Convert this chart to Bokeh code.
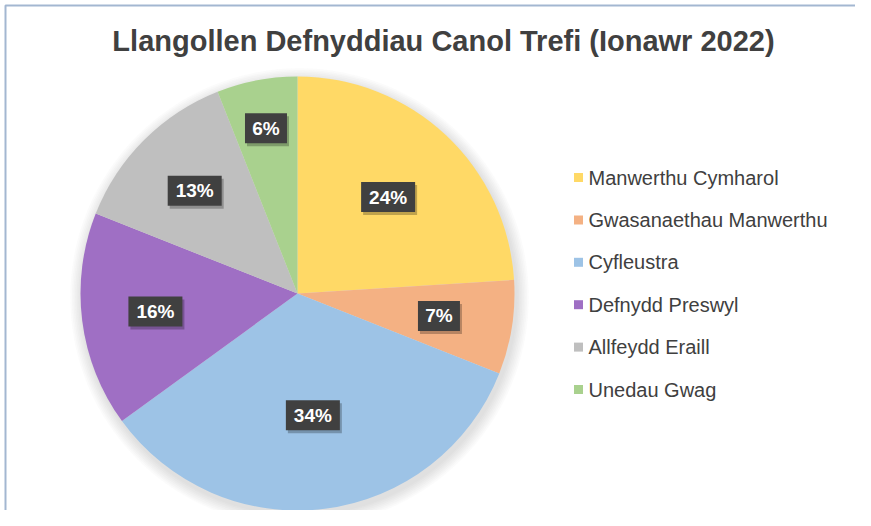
import math
from bokeh.plotting import figure
from bokeh.models import Range1d, ColumnDataSource
from bokeh.core.properties import value
from bokeh.embed import file_html
from bokeh.resources import INLINE

# ---- data ----
title = "Llangollen Defnyddiau Canol Trefi (Ionawr 2022)"
categories = ["Manwerthu Cymharol", "Gwasanaethau Manwerthu", "Cyfleustra",
              "Defnydd Preswyl", "Allfeydd Eraill", "Unedau Gwag"]
shares = [24, 7, 34, 16, 13, 6]

# ---- styles ----
colors = ["#FFD966", "#F4B183", "#9DC3E6", "#9F6FC4", "#BFBFBF", "#A9D18E"]
label_r = [0.61, 0.66, 0.565, 0.66, 0.67, 0.775]
W, H = 855, 510
FONT = "Liberation Sans"
TXT = "#404040"

def X(rx):
    return rx

def Y(ry):
    return H - ry

p = figure(width=W, height=H, x_range=Range1d(0, W), y_range=Range1d(0, H),
           output_backend="svg", toolbar_location=None, x_axis_type=None,
           y_axis_type=None, min_border=0, min_border_left=0, min_border_right=0,
           min_border_top=0, min_border_bottom=0)
p.grid.visible = False
p.outline_line_color = None
p.background_fill_color = "#FFFFFF"
p.border_fill_color = "#FFFFFF"

# frame border (top and left)
p.line([X(5), X(5), W], [0, Y(5), Y(5)], line_color="#A3B7D1", line_width=2)

cx, cy, R = X(297), Y(293), 217

# soft shadow
for i in range(8):
    p.circle(x=[cx + 2], y=[cy - 4], radius=R + 1 + i * 1.6, radius_units="screen",
             fill_color="#808080", fill_alpha=0.035, line_color=None)

total = sum(shares)
starts, ends, mids = [], [], []
cum = 0
for v in shares:
    a0 = math.pi / 2 - 2 * math.pi * cum / total
    cum += v
    a1 = math.pi / 2 - 2 * math.pi * cum / total
    starts.append(a0)
    ends.append(a1)
    mids.append((a0 + a1) / 2)

src = ColumnDataSource(dict(start=starts, end=ends, color=colors))
p.wedge(x=cx, y=cy, radius=R, radius_units="screen", start_angle="start",
        end_angle="end", direction="clock", fill_color="color", line_color=None,
        source=src)

# data labels
lx = [cx + f * R * math.cos(m) for f, m in zip(label_r, mids)]
ly = [cy + f * R * math.sin(m) for f, m in zip(label_r, mids)]
labels = [f"{v}%" for v in shares]
bw = [18 + 12 * len(t) for t in labels]
p.rect(x=[x + 2 for x in lx], y=[y - 3 for y in ly], width=bw, height=[30] * len(lx),
       width_units="screen", height_units="screen", fill_color="#000000",
       fill_alpha=0.25, line_color=None)
p.rect(x=lx, y=ly, width=bw, height=[30] * len(lx), width_units="screen",
       height_units="screen", fill_color="#404040", line_color=None)
p.text(x=lx, y=ly, text=labels, text_align="center", text_baseline="middle",
       text_color="#FFFFFF", text_font=value(FONT), text_font_style="bold",
       text_font_size="19px")

# title
p.text(x=[X(443)], y=[Y(40)], text=[title], text_align="center",
       text_baseline="middle", text_color=TXT, text_font=value(FONT),
       text_font_style="bold", text_font_size="29px")

# legend
ly0 = [Y(177 + 42.4 * i) for i in range(len(categories))]
p.rect(x=[X(578)] * len(categories), y=ly0, width=9, height=9, width_units="screen",
       height_units="screen", fill_color=colors, line_color=None)
p.text(x=[X(588)] * len(categories), y=ly0, text=categories, text_align="left",
       text_baseline="middle", text_color=TXT, text_font=value(FONT),
       text_font_size="20px")

open("out.html", "w").write(file_html(p, INLINE))
